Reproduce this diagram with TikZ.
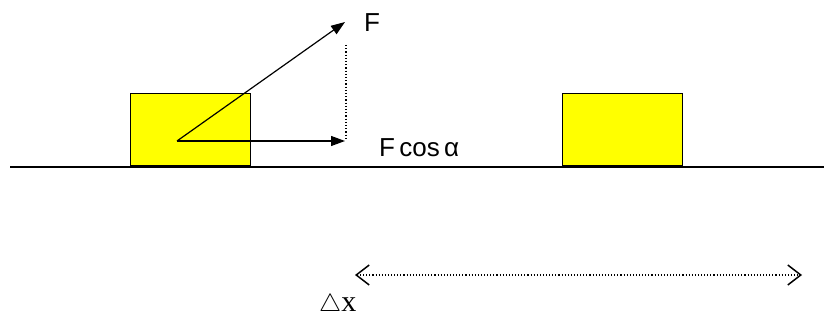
\documentclass[tikz,border=0pt]{standalone}
\usepackage{fontspec}
\setmainfont{Liberation Sans}
\newfontfamily\serifx{Liberation Serif}
\usetikzlibrary{arrows.meta}
\definecolor{boxyellow}{RGB}{255,255,0}
\begin{document}
\begin{tikzpicture}[x=1pt,y=-1pt,
  blockbox/.style={draw=black, line width=1.3pt, fill=boxyellow, minimum width=120pt, minimum height=72pt, inner sep=0pt, anchor=north west},
  force/.style={line width=1.2pt, -{Triangle[length=14pt,width=10pt]}},
  lbl/.style={inner sep=0pt, font=\fontsize{26}{28}\selectfont}]
\useasboundingbox (0,0) rectangle (824,320);
\draw[line width=1.3pt] (10,167) -- (824,167);
\node[blockbox] (b1) at (130,93) {};
\node[blockbox] (b2) at (562,93) {};
\coordinate (o) at (177,141);
\coordinate (ft) at (345,22);
\coordinate (ht) at (345,141);
\coordinate (dtop) at (346,45);
\coordinate (dbot) at (346,139);
\draw[force] (o) -- (ft);
\draw[force] (o) -- (ht);
\draw[dotted, line width=1.2pt] (dtop) -- (dbot);
\node[lbl, anchor=west] (F) at (364,23) {F};
\node[lbl, anchor=west] (Fc) at (379,148) {F\,cos\,α};
\coordinate (l) at (355,275);
\coordinate (r) at (802,275);
\draw[dotted, line width=1.1pt, {Straight Barb[length=13pt,width=20pt,line width=1.5pt]}-{Straight Barb[length=13pt,width=20pt,line width=1.5pt]}] (l) -- (r);
\node[inner sep=0pt, anchor=west, font=\fontsize{30}{32}\selectfont] (dx) at (319,305) {\(\triangle\)\serifx x};
\end{tikzpicture}
\end{document}
